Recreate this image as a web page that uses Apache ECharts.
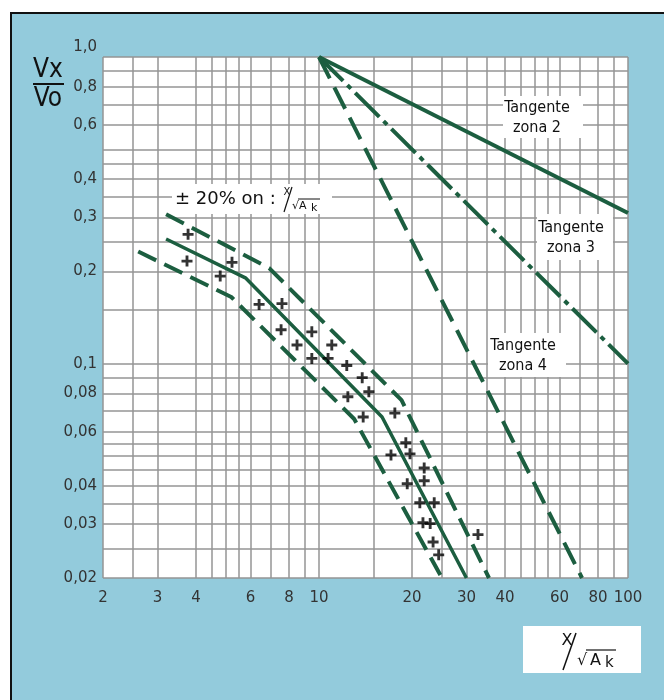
<!DOCTYPE html>
<html><head><meta charset="utf-8">
<script src="https://cdn.jsdelivr.net/npm/echarts@6/dist/echarts.min.js"></script>
<style>
html,body{margin:0;padding:0;background:#fff;}
#frame{position:absolute;left:10px;top:12px;width:652px;height:686px;background:#93cbdc;border-left:2px solid #111;border-top:2px solid #111;}
#chart{position:absolute;left:0;top:0;width:664px;height:700px;}
</style></head><body>
<div id="frame"></div><div id="chart"></div>
<script>
const xTicks = [2,3,4,6,8,10,20,30,40,60,80,100];
const xTickLabels = ['2','3','4','6','8','10','20','30','40','60','80','100'];
const yTicks = [0.02,0.03,0.04,0.06,0.08,0.1,0.2,0.3,0.4,0.6,0.8,1.0];
const yTickLabels = ['0,02','0,03','0,04','0,06','0,08','0,1','0,2','0,3','0,4','0,6','0,8','1,0'];
const xGridValues = [2,2.5,3,4,4.5,5,5.5,6,7,8,9,10,15,20,25,30,35,40,45,50,55,60,70,80,90,100];
const yGridValues = [0.02,0.025,0.03,0.035,0.04,0.045,0.05,0.055,0.06,0.07,0.08,0.09,0.1,0.15,0.2,0.25,0.3,0.35,0.4,0.45,0.5,0.6,0.7,0.8,0.9,1.0];

const tangentZona2 = [[10,1.0],[100,0.31]];
const tangentZona3 = [[10,1.0],[100,0.1]];
const tangentZona4 = [[10,1.0],[71,0.02]];
const bandUpper = [[3.2,0.307],[6.9,0.205],[18.5,0.076],[35.5,0.02]];
const bandMiddle = [[3.2,0.255],[5.8,0.19],[16,0.067],[30,0.02]];
const bandLower = [[2.6,0.232],[5.2,0.165],[13,0.066],[25,0.02]];
const measuredPoints = [
  [3.77,0.264],[3.74,0.216],[4.79,0.193],[5.23,0.214],[6.4,0.156],[7.59,0.157],
  [7.54,0.129],[9.48,0.127],[8.49,0.115],[11.0,0.115],[9.48,0.104],[10.7,0.104],
  [12.3,0.0986],[13.8,0.090],[14.5,0.081],[12.4,0.078],[13.9,0.067],[17.6,0.069],
  [19.1,0.0552],[17.1,0.0504],[19.7,0.0508],[21.9,0.0457],[19.3,0.0406],[21.9,0.0415],
  [21.2,0.0352],[23.6,0.0352],[21.7,0.0303],[22.9,0.0301],[23.4,0.0262],[24.4,0.0238],
  [32.7,0.0277]
];

const GREEN = '#1c5e40';
const NARROW = "'Liberation Sans Narrow','DejaVu Sans Condensed','Liberation Sans',sans-serif";
function findLabel(ticks, labels, v){
  for (let i=0;i<ticks.length;i++){ if (Math.abs(ticks[i]-v)/ticks[i] < 1e-6) return labels[i]; }
  return '';
}
const chart = echarts.init(document.getElementById('chart'), null, {renderer:'canvas'});
const lineSeries = (name, data, type, width) => ({
  name, type:'line', data, symbol:'none', silent:true, z:3,
  lineStyle:{color:GREEN, width:width||4, type:type||'solid', cap:'butt'}
});
chart.setOption({
  backgroundColor:'transparent',
  animation:false,
  grid:{left:103, top:57, right:36, bottom:122, show:true, backgroundColor:'#ffffff', borderWidth:0},
  xAxis:{type:'log', logBase:10, min:2, max:100,
    axisLine:{show:false},
    axisTick:{show:false, customValues:xGridValues},
    splitLine:{show:true, lineStyle:{color:'#959595', width:1.5}},
    axisLabel:{customValues:xTicks, margin:13, color:'#333', fontFamily:'DejaVu Sans', fontSize:15,
      formatter:v=>findLabel(xTicks,xTickLabels,v)}
  },
  yAxis:{type:'log', logBase:10, min:0.02, max:1,
    axisLine:{show:false},
    axisTick:{show:false, customValues:yGridValues},
    splitLine:{show:true, lineStyle:{color:'#959595', width:1.5}},
    axisLabel:{customValues:yTicks, margin:6, color:'#333', fontFamily:'DejaVu Sans', fontSize:15,
      formatter:v=>{const s=findLabel(yTicks,yTickLabels,v); return v>0.99 ? '{top|'+s+'}' : s;},
      rich:{top:{fontFamily:'DejaVu Sans', fontSize:15, color:'#333', padding:[0,0,20,0]}}}
  },
  series:[
    lineSeries('Tangente zona 2', tangentZona2, 'solid', 4),
    lineSeries('Tangente zona 3', tangentZona3, [34,6,5,6], 4),
    lineSeries('Tangente zona 4', tangentZona4, [24,10], 4),
    lineSeries('+20%', bandUpper, [20,9], 4),
    lineSeries('moyenne', bandMiddle, 'solid', 3.5),
    lineSeries('-20%', bandLower, [20,9], 4),
    {name:'mesures', type:'scatter', data:measuredPoints, z:5, silent:true,
     symbol:'path://M3.7,0h2.6v3.7h3.7v2.6h-3.7v3.7h-2.6v-3.7h-3.7v-2.6h3.7z', symbolSize:11,
     itemStyle:{color:'#000'}}
  ],
  graphic:[
    // Vx / Vo
    {type:'text', z:10, style:{text:'Vx', x:48, y:70, font:'26px '+NARROW, fill:'#111', align:'center', verticalAlign:'middle'}},
    {type:'line', z:10, shape:{x1:33,y1:84,x2:64,y2:84}, style:{stroke:'#111', lineWidth:2}},
    {type:'text', z:10, style:{text:'Vo', x:48, y:99, font:'26px '+NARROW, fill:'#111', align:'center', verticalAlign:'middle'}},
    // ±20% annotation
    {type:'rect', z:1, shape:{x:172,y:184,width:160,height:30}, style:{fill:'#fff'}},
    {type:'text', z:10, style:{text:'± 20% on :', x:175, y:199, font:'18px DejaVu Sans', fill:'#111', align:'left', verticalAlign:'middle'}},
    {type:'text', z:10, style:{text:'X', x:287, y:192, font:'10px DejaVu Sans', fill:'#111', align:'center', verticalAlign:'middle'}},
    {type:'line', z:10, shape:{x1:284,y1:212,x2:292,y2:187}, style:{stroke:'#111', lineWidth:1.2}},
    {type:'text', z:10, style:{text:'√A', x:292, y:206, font:'11px DejaVu Sans', fill:'#111', align:'left', verticalAlign:'middle'}},
    {type:'text', z:10, style:{text:'k', x:311, y:208, font:'11px DejaVu Sans', fill:'#111', align:'left', verticalAlign:'middle'}},
    {type:'line', z:10, shape:{x1:298,y1:199,x2:320,y2:199}, style:{stroke:'#111', lineWidth:1}},
    // Tangente labels
    {type:'rect', z:1, shape:{x:503,y:96,width:80,height:42}, style:{fill:'#fff'}},
    {type:'text', z:10, style:{text:'Tangente\nzona 2', x:537, y:118, font:'16px '+NARROW, lineHeight:20, fill:'#111', align:'center', verticalAlign:'middle'}},
    {type:'rect', z:1, shape:{x:537,y:214,width:76,height:46}, style:{fill:'#fff'}},
    {type:'text', z:10, style:{text:'Tangente\nzona 3', x:571, y:238, font:'16px '+NARROW, lineHeight:20, fill:'#111', align:'center', verticalAlign:'middle'}},
    {type:'rect', z:1, shape:{x:488,y:333,width:78,height:44}, style:{fill:'#fff'}},
    {type:'text', z:10, style:{text:'Tangente\nzona 4', x:523, y:356, font:'16px '+NARROW, lineHeight:20, fill:'#111', align:'center', verticalAlign:'middle'}},
    // X / sqrt(Ak) box
    {type:'rect', z:10, shape:{x:523,y:626,width:118,height:47}, style:{fill:'#fff'}},
    {type:'text', z:11, style:{text:'X', x:567, y:641, font:'16px DejaVu Sans', fill:'#111', align:'center', verticalAlign:'middle'}},
    {type:'line', z:11, shape:{x1:563,y1:670,x2:576,y2:633}, style:{stroke:'#111', lineWidth:1.5}},
    {type:'text', z:11, style:{text:'√', x:577, y:661, font:'16px DejaVu Sans', fill:'#111', align:'left', verticalAlign:'middle'}},
    {type:'text', z:11, style:{text:'A', x:590, y:661, font:'16px DejaVu Sans', fill:'#111', align:'left', verticalAlign:'middle'}},
    {type:'text', z:11, style:{text:'k', x:605, y:663, font:'15px DejaVu Sans', fill:'#111', align:'left', verticalAlign:'middle'}},
    {type:'line', z:11, shape:{x1:586,y1:650,x2:616,y2:650}, style:{stroke:'#111', lineWidth:1.2}}
  ]
});
</script></body></html>
